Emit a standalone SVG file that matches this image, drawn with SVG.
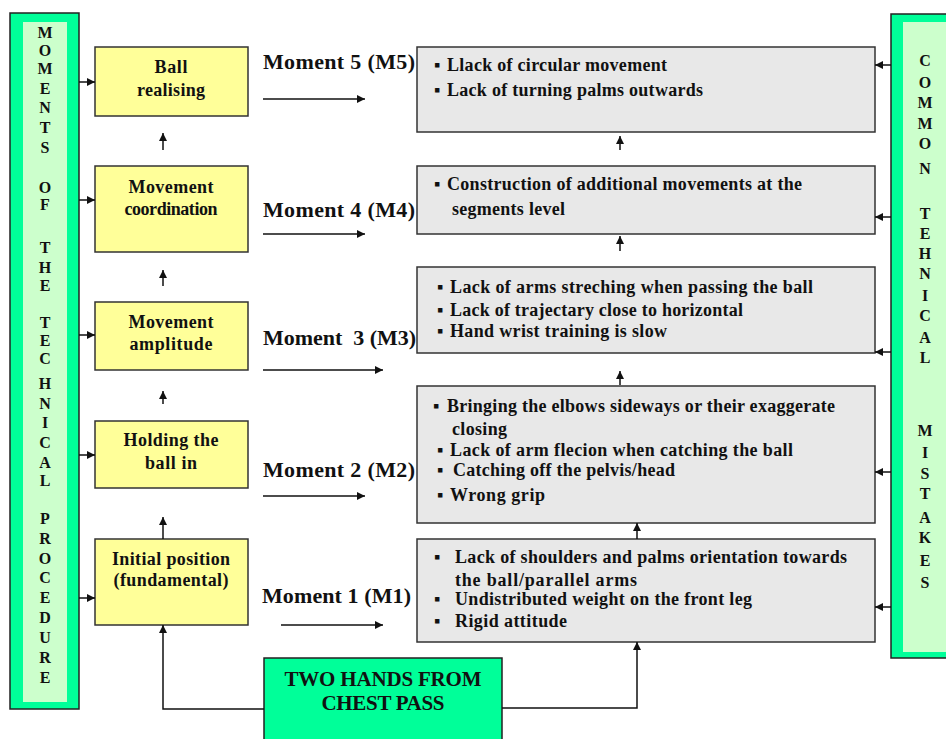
<svg xmlns="http://www.w3.org/2000/svg" width="946" height="739" viewBox="0 0 946 739">
<style>
.t{font-family:"Liberation Serif","Times New Roman",serif;font-weight:bold;fill:#111}
.col{font-size:16px;text-anchor:middle}
.yb{font-size:18px;text-anchor:middle}
.gb{font-size:18px}
.mo{font-size:22px}
.big{font-size:21px;text-anchor:middle}
.yel{fill:#FFFF99;stroke:#333;stroke-width:1.5}
.gry{fill:#E8E8E8;stroke:#333;stroke-width:1.5}
.grn{fill:#00FF99;stroke:#222;stroke-width:1.5}
.lgt{fill:#CCFFCC}
.c{stroke:#111;stroke-width:1.5;fill:none;marker-end:url(#ah)}
</style>
<defs>
<marker id="ah" viewBox="0 0 10 10" refX="10" refY="5" markerWidth="9" markerHeight="8" markerUnits="userSpaceOnUse" orient="auto"><path d="M0,0 L10,5 L0,10 z" fill="#111"/></marker>
</defs>
<rect width="946" height="739" fill="#fff"/>

<g id="left-panel">
<rect class="grn" x="10" y="13" width="69" height="696"/>
<rect class="lgt" x="23" y="22" width="44" height="680"/>
<g class="t col">
<text x="45" y="38">M</text><text x="45" y="56">O</text><text x="45" y="74">M</text><text x="45" y="94">E</text><text x="45" y="113">N</text><text x="45" y="133">T</text><text x="45" y="153">S</text>
<text x="45" y="193">O</text><text x="45" y="210">F</text>
<text x="45" y="253">T</text><text x="45" y="273">H</text><text x="45" y="291">E</text>
<text x="45" y="328">T</text><text x="45" y="346">E</text><text x="45" y="364">C</text><text x="45" y="389">H</text><text x="45" y="409">N</text><text x="45" y="428">I</text><text x="45" y="448">C</text><text x="45" y="468">A</text><text x="45" y="486">L</text>
<text x="45" y="524">P</text><text x="45" y="544">R</text><text x="45" y="564">O</text><text x="45" y="583">C</text><text x="45" y="603">E</text><text x="45" y="623">D</text><text x="45" y="643">U</text><text x="45" y="663">R</text><text x="45" y="683">E</text>
</g>
</g>

<g id="right-panel">
<rect class="grn" x="891" y="14" width="70" height="644"/>
<rect class="lgt" x="903" y="22" width="60" height="630"/>
<g class="t col">
<text x="925" y="66">C</text><text x="925" y="88">O</text><text x="925" y="108">M</text><text x="925" y="129">M</text><text x="925" y="149">O</text><text x="925" y="174">N</text>
<text x="925" y="219">T</text><text x="925" y="239">E</text><text x="925" y="259">H</text><text x="925" y="279">N</text><text x="925" y="301">I</text><text x="925" y="321">C</text><text x="925" y="343">A</text><text x="925" y="363">L</text>
<text x="925" y="436">M</text><text x="925" y="458">I</text><text x="925" y="479">S</text><text x="925" y="499">T</text><text x="925" y="523">A</text><text x="925" y="543">K</text><text x="925" y="566">E</text><text x="925" y="588">S</text>
</g>
</g>

<g id="ball-realising">
<rect class="yel" x="95" y="47" width="153" height="69"/>
<text class="t yb" x="171" y="73" textLength="33">Ball</text>
<text class="t yb" x="171" y="96" textLength="68">realising</text>
</g>
<g id="movement-coordination">
<rect class="yel" x="95" y="166" width="153" height="86"/>
<text class="t yb" x="171" y="193" textLength="85">Movement</text>
<text class="t yb" x="171" y="215" textLength="93">coordination</text>
</g>
<g id="movement-amplitude">
<rect class="yel" x="95" y="302" width="153" height="68"/>
<text class="t yb" x="171" y="328" textLength="85">Movement</text>
<text class="t yb" x="171" y="350" textLength="83">amplitude</text>
</g>
<g id="holding-ball">
<rect class="yel" x="95" y="421" width="153" height="67"/>
<text class="t yb" x="171" y="446" textLength="95">Holding the</text>
<text class="t yb" x="171" y="469" textLength="52">ball in</text>
</g>
<g id="initial-position">
<rect class="yel" x="95" y="539" width="153" height="86"/>
<text class="t yb" x="171" y="565" textLength="118">Initial position</text>
<text class="t yb" x="171" y="586" textLength="115">(fundamental)</text>
</g>

<g id="m5-box">
<rect class="gry" x="417" y="47" width="458" height="85"/>
<text class="t gb" x="434" y="71">▪</text><text class="t gb" x="447" y="71" textLength="220">Llack of circular movement</text>
<text class="t gb" x="434" y="96">▪</text><text class="t gb" x="447" y="96" textLength="256">Lack of turning palms outwards</text>
</g>
<g id="m4-box">
<rect class="gry" x="417" y="166" width="458" height="68"/>
<text class="t gb" x="434" y="190">▪</text><text class="t gb" x="447" y="190" textLength="355">Construction of additional movements at the</text>
<text class="t gb" x="452" y="215" textLength="113">segments level</text>
</g>
<g id="m3-box">
<rect class="gry" x="417" y="267" width="458" height="86"/>
<text class="t gb" x="437" y="293">▪</text><text class="t gb" x="450" y="293" textLength="363">Lack of arms streching when passing the ball</text>
<text class="t gb" x="437" y="316">▪</text><text class="t gb" x="450" y="316" textLength="293">Lack of trajectary close to horizontal</text>
<text class="t gb" x="437" y="337">▪</text><text class="t gb" x="450" y="337" textLength="217">Hand wrist training is slow</text>
</g>
<g id="m2-box">
<rect class="gry" x="417" y="386" width="458" height="137"/>
<text class="t gb" x="433" y="412">▪</text><text class="t gb" x="447" y="412" textLength="388">Bringing the elbows sideways or their exaggerate</text>
<text class="t gb" x="452" y="435" textLength="55">closing</text>
<text class="t gb" x="437" y="456">▪</text><text class="t gb" x="450" y="456" textLength="343">Lack of arm flecion when catching the ball</text>
<text class="t gb" x="437" y="476">▪</text><text class="t gb" x="453" y="476" textLength="222">Catching off the pelvis/head</text>
<text class="t gb" x="437" y="501">▪</text><text class="t gb" x="450" y="501" textLength="95">Wrong grip</text>
</g>
<g id="m1-box">
<rect class="gry" x="417" y="539" width="458" height="103"/>
<text class="t gb" x="434" y="563">▪</text><text class="t gb" x="455" y="563" textLength="392">Lack of shoulders and palms orientation towards</text>
<text class="t gb" x="455" y="586" textLength="182">the ball/parallel arms</text>
<text class="t gb" x="434" y="605">▪</text><text class="t gb" x="455" y="605" textLength="297">Undistributed weight on the front leg</text>
<text class="t gb" x="434" y="627">▪</text><text class="t gb" x="455" y="627" textLength="112">Rigid attitude</text>
</g>

<g id="chest-pass">
<rect class="grn" x="264" y="658" width="238" height="90"/>
<text class="t big" x="383" y="686" textLength="197">TWO HANDS FROM</text>
<text class="t big" x="383" y="710" textLength="123">CHEST PASS</text>
</g>

<g id="moment-labels">
<text class="t mo" x="263" y="69" textLength="152">Moment 5 (M5)</text>
<text class="t mo" x="263" y="217" textLength="152">Moment 4 (M4)</text>
<text class="t mo" x="263" y="345" textLength="153" xml:space="preserve">Moment  3 (M3)</text>
<text class="t mo" x="263" y="477" textLength="152">Moment 2 (M2)</text>
<text class="t mo" x="262" y="603" textLength="149">Moment 1 (M1)</text>
</g>

<g id="connectors">
<line class="c" x1="79" y1="82" x2="95" y2="82"/>
<line class="c" x1="79" y1="200" x2="95" y2="200"/>
<line class="c" x1="79" y1="335" x2="95" y2="335"/>
<line class="c" x1="79" y1="455" x2="95" y2="455"/>
<line class="c" x1="79" y1="598" x2="95" y2="598"/>
<line class="c" x1="163" y1="150" x2="163" y2="133"/>
<line class="c" x1="163" y1="286" x2="163" y2="270"/>
<line class="c" x1="163" y1="404" x2="163" y2="391"/>
<line class="c" x1="163" y1="539" x2="163" y2="517"/>
<line class="c" x1="891" y1="65" x2="875" y2="65"/>
<line class="c" x1="891" y1="217" x2="875" y2="217"/>
<line class="c" x1="891" y1="352" x2="875" y2="352"/>
<line class="c" x1="891" y1="472" x2="875" y2="472"/>
<line class="c" x1="891" y1="607" x2="875" y2="607"/>
<line class="c" x1="620" y1="150" x2="620" y2="136"/>
<line class="c" x1="620" y1="251" x2="620" y2="236"/>
<line class="c" x1="620" y1="385" x2="620" y2="371"/>
<line class="c" x1="637" y1="539" x2="637" y2="523"/>
<line class="c" x1="263" y1="99" x2="365" y2="99"/>
<line class="c" x1="263" y1="234" x2="365" y2="234"/>
<line class="c" x1="263" y1="370" x2="383" y2="370"/>
<line class="c" x1="263" y1="496" x2="365" y2="496"/>
<line class="c" x1="281" y1="625" x2="383" y2="625"/>
<polyline class="c" points="264,709 163,709 163,625"/>
<polyline class="c" points="502,708 637,708 637,642"/>
</g>
</svg>
